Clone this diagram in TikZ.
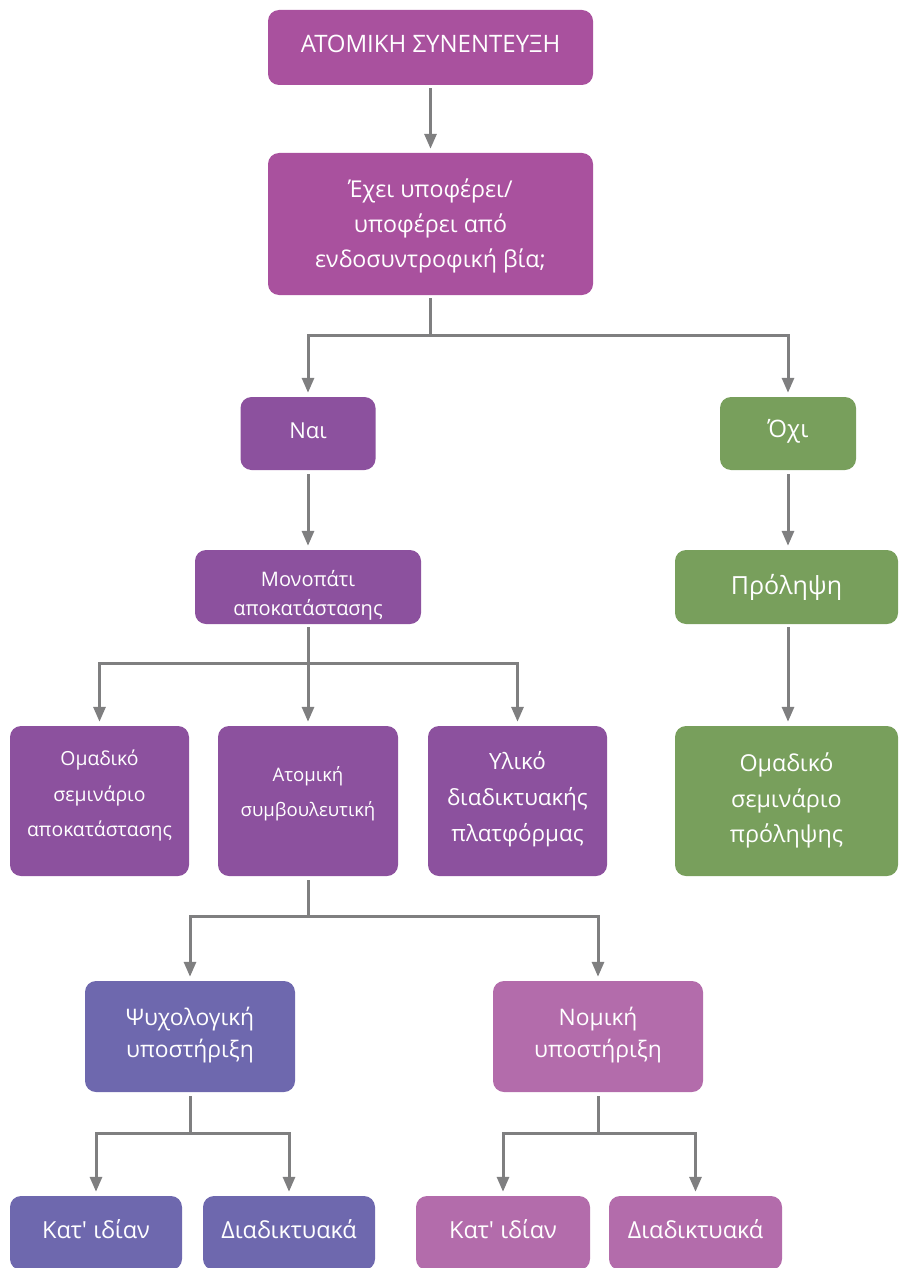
\documentclass[tikz,border=0pt]{standalone}
\usepackage{fontspec}
\setmainfont{Open Sans}[Ligatures=TeXOff]
\usetikzlibrary{arrows.meta}
\definecolor{cA}{HTML}{A9519E}
\definecolor{cB}{HTML}{8C519E}
\definecolor{cG}{HTML}{789F5C}
\definecolor{cV}{HTML}{6E68AE}
\definecolor{cP}{HTML}{B36CAB}
\definecolor{cL}{HTML}{7F7F80}
\begin{document}
\begin{tikzpicture}[x=1pt,y=-1pt,
  box/.style={draw=none, fill=#1, rounded corners=11pt, inner sep=0pt},
  lbl/.style={text=white, align=center, inner sep=0pt},
  conn/.style={draw=cL, line width=3pt},
  arr/.style={conn, -{Triangle[width=12pt,length=15pt]}, shorten >=4pt},
  fs/.style 2 args={font=\fontsize{#1}{#2}\selectfont},
]
\useasboundingbox (0,0) rectangle (898,1268);

\node[box=cA, minimum width=325pt, minimum height=75pt,
  label={[lbl,fs={24}{30},yshift=4pt]center:{ΑΤΟΜΙΚΗ ΣΥΝΕΝΤΕΥΞΗ}}] (n1) at (430.5,47.5) {};
\node[box=cA, minimum width=325pt, minimum height=142pt,
  label={[lbl,fs={23.2}{35},yshift=-2pt]center:{Έχει υποφέρει/\\υποφέρει από\\ενδοσυντροφική βία;}}] (n2) at (430.5,224) {};
\node[box=cB, minimum width=135pt, minimum height=73pt,
  label={[lbl,fs={22}{30},yshift=3pt]center:{Ναι}}] (n3) at (308,433.5) {};
\node[box=cG, minimum width=136pt, minimum height=73pt,
  label={[lbl,fs={24}{30},yshift=2pt]center:{Όχι}}] (n4) at (788,433.5) {};
\node[box=cB, minimum width=226pt, minimum height=74pt,
  label={[lbl,fs={20}{29},yshift=-8pt]center:{Μονοπάτι\\αποκατάστασης}}] (n5) at (308,587) {};
\node[box=cG, minimum width=223pt, minimum height=74pt,
  label={[lbl,fs={25}{30},yshift=0pt]center:{Πρόληψη}}] (n6) at (786.5,587) {};
\node[box=cG, minimum width=223pt, minimum height=150pt,
  label={[lbl,fs={23.3}{35.5},yshift=0.5pt]center:{Ομαδικό\\σεμινάριο\\πρόληψης}}] (n7) at (786.5,801) {};
\node[box=cB, minimum width=179pt, minimum height=150pt,
  label={[lbl,fs={19.4}{35.5},yshift=5pt]center:{Ομαδικό\\σεμινάριο\\αποκατάστασης}}] (n8) at (99.5,801) {};
\node[box=cB, minimum width=180pt, minimum height=150pt,
  label={[lbl,fs={18.6}{35},yshift=7pt]center:{Ατομική\\συμβουλευτική}}] (n9) at (308,801) {};
\node[box=cB, minimum width=179pt, minimum height=150pt,
  label={[lbl,fs={22.4}{36},yshift=2pt]center:{Υλικό\\διαδικτυακής\\πλατφόρμας}}] (n10) at (517.5,801) {};
\node[box=cV, minimum width=210pt, minimum height=111pt,
  label={[lbl,fs={22.8}{32},yshift=1pt]center:{Ψυχολογική\\υποστήριξη}}] (n11) at (190,1036.5) {};
\node[box=cP, minimum width=210pt, minimum height=111pt,
  label={[lbl,fs={22.8}{32},yshift=1pt]center:{Νομική\\υποστήριξη}}] (n12) at (598,1036.5) {};
\node[box=cV, minimum width=172pt, minimum height=74pt,
  label={[lbl,fs={23.5}{30},yshift=4pt]center:{Κατ' ιδίαν}}] (n13) at (96,1233) {};
\node[box=cV, minimum width=172pt, minimum height=74pt,
  label={[lbl,fs={23.5}{30},yshift=4pt]center:{Διαδικτυακά}}] (n14) at (289,1233) {};
\node[box=cP, minimum width=174pt, minimum height=74pt,
  label={[lbl,fs={23.5}{30},yshift=4pt]center:{Κατ' ιδίαν}}] (n15) at (503,1233) {};
\node[box=cP, minimum width=173pt, minimum height=74pt,
  label={[lbl,fs={23.5}{30},yshift=4pt]center:{Διαδικτυακά}}] (n16) at (695.5,1233) {};

% connectors
\draw[arr] ([yshift=-3pt]n1.south) -- (n2);

\coordinate (j1) at (430.5,335);
\draw[conn] ([yshift=-3pt]n2.south) -- (j1);
\draw[arr] (j1) -| (n3);
\draw[arr] (j1) -| (n4);

\draw[arr] ([yshift=-4pt]n3.south) -- (n5);
\draw[arr] ([yshift=-4pt]n4.south) -- (n4.south |- n6.north);
\draw[arr] ([yshift=-3pt]n4.south |- n6.south) -- (n4.south |- n7.north);

\coordinate (j2) at (308,663);
\draw[conn] ([yshift=-3pt]n5.south) -- (j2);
\draw[arr] (j2) -| (n8);
\draw[arr] (j2) -- (n9);
\draw[arr] (j2) -| (n10);

\coordinate (j3) at (308,916);
\draw[conn] ([yshift=-4pt]n9.south) -- (j3);
\draw[arr] (j3) -| (n11);
\draw[arr] (j3) -| (n12);

\coordinate (j4) at (190,1133);
\draw[conn] ([yshift=-4pt]n11.south) -- (j4);
\draw[arr] (j4) -| (n13);
\draw[arr] (j4) -| (n14);

\coordinate (j5) at (598,1133);
\draw[conn] ([yshift=-4pt]n12.south) -- (j5);
\draw[arr] (j5) -| (n15);
\draw[arr] (j5) -| (n16);
\end{tikzpicture}
\end{document}
